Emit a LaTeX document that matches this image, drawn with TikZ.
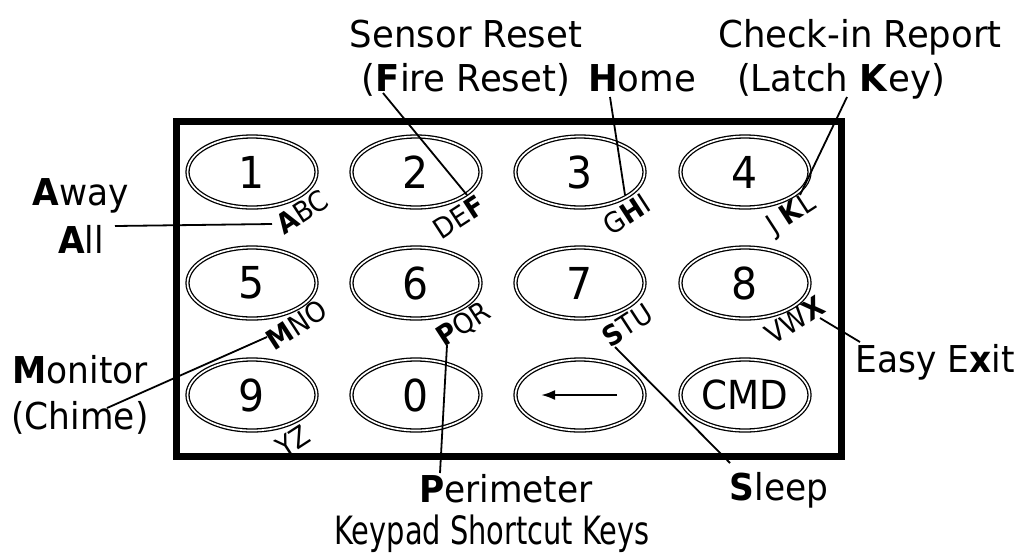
\documentclass[tikz,border=0pt]{standalone}
\usepackage{fontspec}
\setmainfont{DejaVu Sans}[FakeStretch=0.93]
\newfontfamily\topfont{DejaVu Sans}[FakeStretch=0.96]
\newfontfamily\titlefont{DejaVu Sans}[FakeStretch=0.74]
\usetikzlibrary{shapes.geometric,arrows.meta}
\begin{document}
\begin{tikzpicture}[x=1pt,y=-1pt,
  key/.style={ellipse, draw, double, double distance=1.7pt, line width=1.3pt,
    minimum width=129pt, minimum height=71pt, inner sep=0pt,
    font=\fontsize{44}{44}\selectfont},
  lbl/.style={inner sep=0pt, anchor=base, font=\fontsize{37}{37}\selectfont},
  toplbl/.style={inner sep=0pt, anchor=base, font=\topfont\fontsize{37}{37}\selectfont},
  letters/.style={inner sep=0pt, rotate=33, font=\fontsize{28}{28}\selectfont},
  conn/.style={line width=1.8pt}]
\useasboundingbox (0,0) rectangle (1019,558);
% keypad frame
\node[draw, line width=7pt, minimum width=665pt, minimum height=335pt, inner sep=0pt] (pad) at (509,289) {};
% keys
\node[key] (k1) at (252,172) {1};
\node[key] (k2) at (416,172) {2};
\node[key] (k3) at (580,172) {3};
\node[key] (k4) at (745,172) {4};
\node[key] (k5) at (252,283) {5};
\node[key] (k6) at (416,283) {6};
\node[key] (k7) at (580,283) {7};
\node[key] (k8) at (745,283) {8};
\node[key] (k9) at (252,395) {9};
\node[key] (k0) at (416,395) {0};
\node[key] (kb) at (580,395) {};
\node[key, font=\fontsize{40}{40}\selectfont] (kc) at (745,395) {CMD};
\draw[line width=2.4pt, -{Latex[length=14pt,width=10pt]}] ([xshift=37pt]kb.center) -- ([xshift=-39pt]kb.center);
% letters on keys
\node[letters] (l1) at (302,212) {\textbf{A}BC};
\node[letters] (l2) at (459,217) {DE\textbf{F}};
\node[letters] (l3) at (627,214) {G\textbf{H}I};
\node[letters] (l4) at (792,215) {J \textbf{K}L};
\node[letters] (l5) at (297,325) {\textbf{M}NO};
\node[letters] (l6) at (464,325) {\textbf{P}QR};
\node[letters] (l7) at (627,325) {\textbf{S}TU};
\node[letters] (l8) at (795,320) {VW\textbf{X}};
\node[letters] (l9) at (293,441) {YZ};
% labels
\node[lbl] (away) at (81,205) {\textbf{A}way};
\node[lbl] (all) at (81,253) {\textbf{A}ll};
\node[lbl] (mon) at (80,383) {\textbf{M}onitor};
\node[lbl] (chime) at (80,429) {(Chime)};
\node[toplbl] (sens) at (466,47) {Sensor Reset};
\node[toplbl] (fire) at (466,91) {(\textbf{F}ire Reset)};
\node[toplbl] (home) at (642,91) {\textbf{H}ome};
\node[toplbl] (check) at (860,47) {Check-in Report};
\node[toplbl] (latch) at (841,91) {(Latch \textbf{K}ey)};
\node[lbl] (easy) at (935,372) {Easy E\textbf{x}it};
\node[lbl] (peri) at (506,502) {\textbf{P}erimeter};
\node[lbl] (sleep) at (779,500) {\textbf{S}leep};
\node[lbl, font=\titlefont\fontsize{39}{39}\selectfont] (title) at (492,544) {Keypad Shortcut Keys};
% connector end points
\coordinate (cA1) at (115,226);  \coordinate (cA2) at (272,224);
\coordinate (cF1) at (383,93);   \coordinate (cF2) at (467,195);
\coordinate (cH1) at (610,97);   \coordinate (cH2) at (625,195);
\coordinate (cK1) at (847,97);   \coordinate (cK2) at (800,195);
\coordinate (cM1) at (107,408);  \coordinate (cM2) at (267,337);
\coordinate (cP1) at (447,345);  \coordinate (cP2) at (440,473);
\coordinate (cS1) at (615,347);  \coordinate (cS2) at (730,463);
\coordinate (cX1) at (820,318);  \coordinate (cX2) at (860,342);
\draw[conn] (cA1) -- (cA2);
\draw[conn] (cF1) -- (cF2);
\draw[conn] (cH1) -- (cH2);
\draw[conn] (cK1) -- (cK2);
\draw[conn] (cM1) -- (cM2);
\draw[conn] (cP1) -- (cP2);
\draw[conn] (cS1) -- (cS2);
\draw[conn] (cX1) -- (cX2);
\end{tikzpicture}
\end{document}
